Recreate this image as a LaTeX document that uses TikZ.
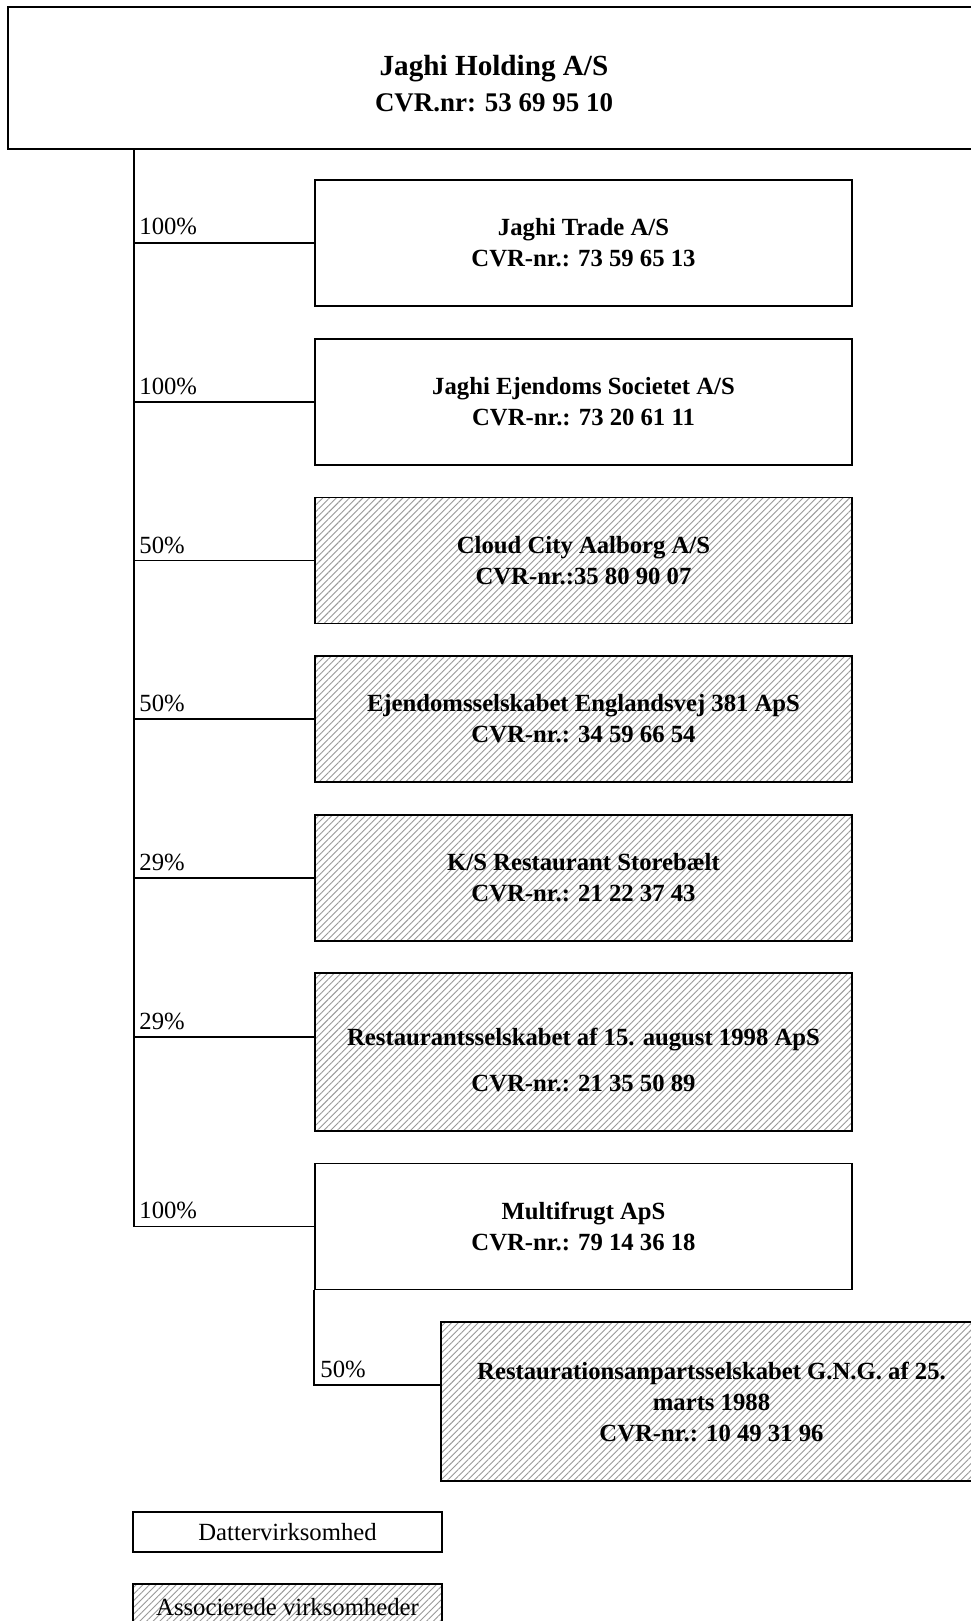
\documentclass[tikz,border=0pt]{standalone}
\usepackage{fontspec}
\setmainfont{Liberation Serif}
\usetikzlibrary{patterns.meta}
\newcommand\pxu{0.4454pt}
\begin{document}
\begin{tikzpicture}[x=0.4454pt, y=-0.4454pt,
  box/.style={draw, line width=0.75pt, inner sep=0pt, align=center,
    font=\bfseries\fontsize{11}{13.8}\selectfont,
    minimum width=537*\pxu, minimum height=126*\pxu},
  hatch/.style={pattern={Lines[angle=45,distance=2.1pt,line width=0.4pt]}, pattern color=black!40},
  assoc/.style={box, hatch},
  pct/.style={anchor=base west, inner sep=0pt, font=\fontsize{11}{13.8}\selectfont},
  link/.style={line width=0.65pt},
  legend/.style={draw, line width=0.75pt, inner sep=0pt, font=\fontsize{11}{13.8}\selectfont,
    minimum width=309*\pxu}
]
\clip (0,0) rectangle (971,1621);
\fill[white] (0,0) rectangle (971,1621);

% top box
\node[draw, line width=1pt, inner sep=0pt, minimum width=972*\pxu, minimum height=142*\pxu] (top) at (494,78) {};
\node[inner sep=0pt, align=center, font=\bfseries\fontsize{12}{16}\selectfont] (toptext) at (494,84)
  {{\fontsize{13}{16}\selectfont Jaghi Holding A/S}\\CVR.nr: 53 69 95 10};

% subsidiaries
\node[box] (b1) at (583.5,243) {Jaghi Trade A/S\\CVR-nr.: 73 59 65 13};
\node[box] (b2) at (583.5,402) {Jaghi Ejendoms Societet A/S\\CVR-nr.: 73 20 61 11};
\node[assoc] (b3) at (583.5,560.5) {Cloud City Aalborg A/S\\CVR-nr.:35 80 90 07};
\node[assoc] (b4) at (583.5,719) {Ejendomsselskabet Englandsvej 381 ApS\\CVR-nr.: 34 59 66 54};
\node[assoc] (b5) at (583.5,878) {K/S Restaurant Storebælt\\CVR-nr.: 21 22 37 43};
\node[assoc, minimum height=158*\pxu] (b6) at (583.5,1052) {};
\node[inner sep=0pt, align=center, font=\bfseries\fontsize{11}{13.8}\selectfont] (t6) at (583.5,1060)
  {Restaurantsselskabet af 15. august 1998 ApS\\[7pt]CVR-nr.: 21 35 50 89};
\node[box] (b7) at (583.5,1226.5) {Multifrugt ApS\\CVR-nr.: 79 14 36 18};
\node[assoc, minimum width=541*\pxu, minimum height=159*\pxu] (b8) at (711.5,1401.5)
  {Restaurationsanpartsselskabet G.N.G. af 25.\\marts 1988\\CVR-nr.: 10 49 31 96};

% connectors
\coordinate (tk) at (134,0);
\coordinate (c6) at (315,1037);
\coordinate (c8) at (441,1385);
\draw[link] (tk |- top.south) |- (b7.west);
\draw[link] (tk |- b1.west) -- (b1.west);
\draw[link] (tk |- b2.west) -- (b2.west);
\draw[link] (tk |- b3.west) -- (b3.west);
\draw[link] (tk |- b4.west) -- (b4.west);
\draw[link] (tk |- b5.west) -- (b5.west);
\draw[link] (tk |- c6) -- (c6);
\draw[link] (b7.south west) |- (c8);

% percentages
\node[pct] (p1) at (139,235) {100\%};
\node[pct] (p2) at (139,394) {100\%};
\node[pct] (p3) at (139,553) {50\%};
\node[pct] (p4) at (139,711) {50\%};
\node[pct] (p5) at (139,870) {29\%};
\node[pct] (p6) at (139,1029) {29\%};
\node[pct] (p7) at (139,1218) {100\%};
\node[pct] (p8) at (320,1377) {50\%};

% legend
\node[legend, minimum height=40*\pxu] (lg1) at (287.5,1532) {Dattervirksomhed};
\node[legend, hatch, minimum height=46*\pxu] (lg2) at (287.5,1607) {Associerede virksomheder};
\end{tikzpicture}
\end{document}
